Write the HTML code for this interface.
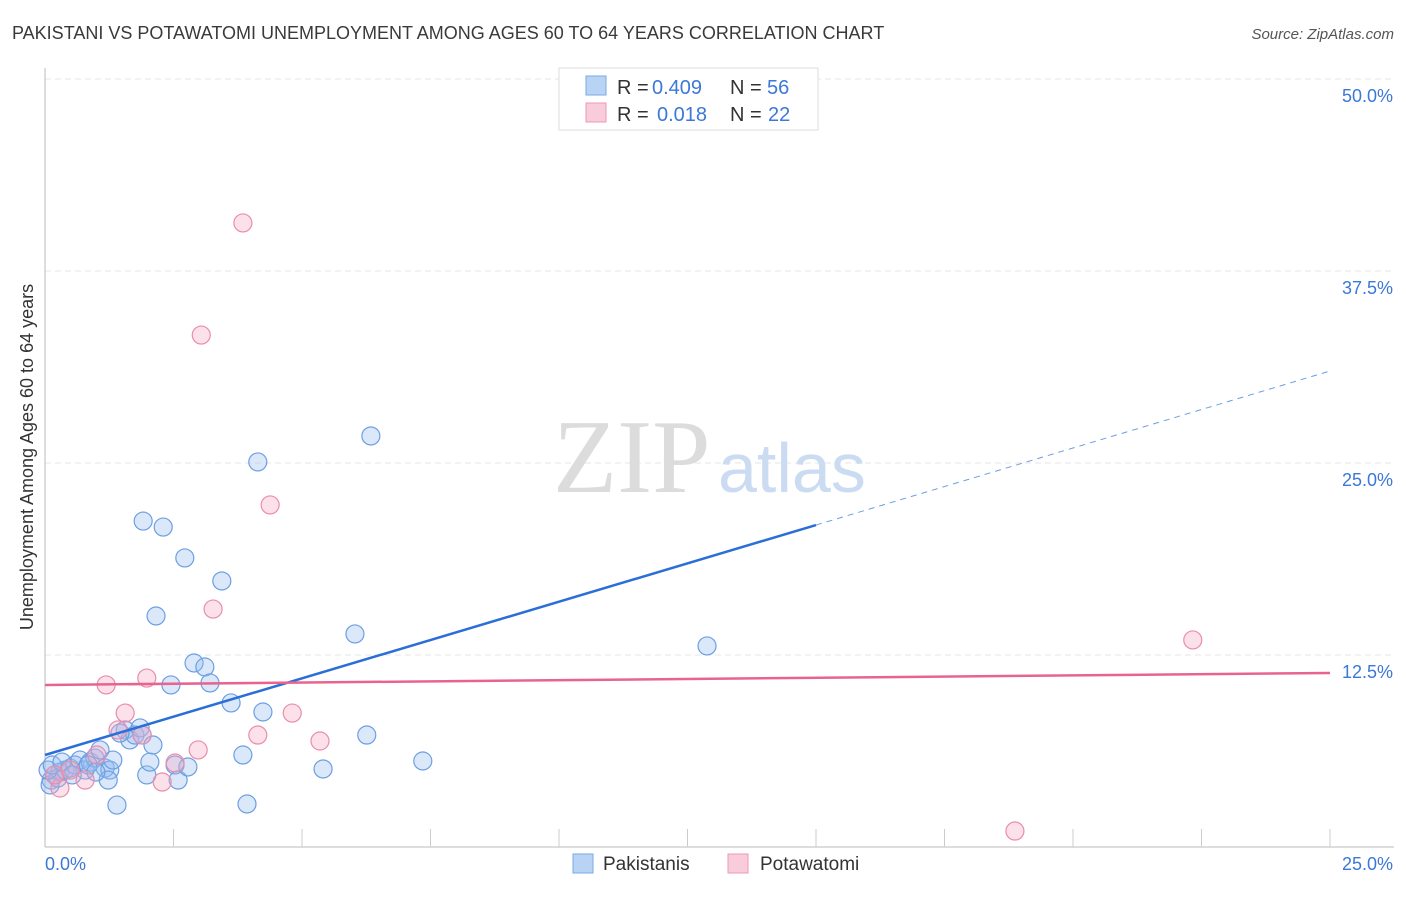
<!DOCTYPE html>
<html><head><meta charset="utf-8"><style>
body{margin:0;background:#fff;font-family:"Liberation Sans",sans-serif;}
</style></head><body>
<svg id="chart" width="1406" height="892" font-family="Liberation Sans, sans-serif">
<text x="12" y="39" font-size="18" fill="#3a3a3a">PAKISTANI VS POTAWATOMI UNEMPLOYMENT AMONG AGES 60 TO 64 YEARS CORRELATION CHART</text>
<text x="1394" y="39" font-size="15" fill="#555" font-style="italic" text-anchor="end">Source: ZipAtlas.com</text>
<text x="0" y="0" transform="translate(33,457) rotate(-90)" font-size="18" fill="#333" text-anchor="middle">Unemployment Among Ages 60 to 64 years</text>
<g id="grid"></g>
<text x="553" y="492" font-size="105" fill="#dcdcdc" style="font-family:'Liberation Serif',serif">ZIP</text>
<text x="718" y="492" font-size="70" fill="#cbdcf2">atlas</text>
<g id="marks"></g>
<g>
<rect x="559" y="68" width="259" height="62" fill="#fff" stroke="#ddd"/>
<rect x="586" y="76" width="20" height="19" fill="#b9d3f5" stroke="#7aa8e6"/>
<rect x="586" y="103" width="20" height="19" fill="#f9ccdb" stroke="#ec9ab6"/>
<text x="617" y="94" font-size="20" fill="#333">R =</text>
<text x="652" y="94" font-size="20" fill="#3b78d8">0.409</text>
<text x="730" y="94" font-size="20" fill="#333">N =</text>
<text x="767" y="94" font-size="20" fill="#3b78d8">56</text>
<text x="617" y="121" font-size="20" fill="#333">R =</text>
<text x="657" y="121" font-size="20" fill="#3b78d8">0.018</text>
<text x="730" y="121" font-size="20" fill="#333">N =</text>
<text x="768" y="121" font-size="20" fill="#3b78d8">22</text>
</g>
<g>
<rect x="573" y="854" width="20" height="19" fill="#b9d3f5" stroke="#7aa8e6"/>
<text x="603" y="870" font-size="19" fill="#333">Pakistanis</text>
<rect x="728" y="854" width="20" height="19" fill="#f9ccdb" stroke="#ec9ab6"/>
<text x="760" y="870" font-size="19" fill="#333">Potawatomi</text>
</g>
</svg>
<script>
const xTickLabels=["0.0%","25.0%"];
const yTicks=[12.5,25,37.5,50];
const yTickLabels=["12.5%","25.0%","37.5%","50.0%"];
const pakX=[0.12,0.19,0.29,0.39,0.49,0.10,0.25,0.58,0.68,0.78,0.88,0.97,1.07,1.17,1.26,1.32,1.23,1.40,1.56,1.65,1.75,1.85,1.89,1.98,2.04,2.10,1.91,2.16,2.30,2.45,2.53,2.59,2.72,2.78,2.90,3.11,3.21,3.44,3.62,3.85,3.93,4.14,4.24,5.41,6.03,6.26,6.34,7.35,12.88,0.06,0.14,0.33,0.53,0.84,0.99,1.46];
const pakY=[4.36,4.69,4.88,5.01,5.14,4.04,4.49,5.34,5.66,5.01,5.53,5.79,6.32,5.14,5.01,5.66,4.36,2.73,7.62,6.97,7.29,7.75,7.29,4.69,5.53,6.64,21.22,15.04,20.83,10.55,5.34,4.36,18.82,5.21,11.98,11.72,10.68,17.32,9.38,5.99,2.80,25.07,8.79,5.08,13.87,7.29,26.76,5.60,13.09,5.01,5.34,5.53,4.69,5.34,4.88,7.42];
const potX=[3.85,3.04,4.38,3.27,22.33,18.87,1.19,1.98,1.56,4.81,5.35,4.14,2.98,2.53,2.28,1.42,1.89,1.01,0.78,0.29,0.19,0.49];
const potY=[40.63,33.33,22.27,15.49,13.48,1.04,10.55,11.00,8.72,8.72,6.90,7.29,6.32,5.47,4.23,7.62,7.29,5.99,4.36,3.84,4.69,5.01];
const pakTrend=[5.99,20.96,30.99]; // at x=0,15,25
const potTrend=[10.55,11.33];
const NS="http://www.w3.org/2000/svg";
const X=v=>45+v*51.4, Y=v=>847-v*15.36;
function mk(t,a,p){const e=document.createElementNS(NS,t);for(const k in a)e.setAttribute(k,a[k]);p.appendChild(e);return e;}
const g=document.getElementById('grid'), m=document.getElementById('marks');
yTicks.forEach((t,i)=>{
 const l=mk('line',{x1:45,x2:1394,y1:Y(t),y2:Y(t),stroke:'#e6e6e6','stroke-dasharray':'6,4'},g);
 
 
 const tx=mk('text',{x:1393,y:Y(t)+23,'font-size':18,fill:'#3b78d8','text-anchor':'end'},g);
 tx.textContent=yTickLabels[i];
 
 
});
const ax=mk('line',{x1:45,x2:1394,y1:847,y2:847,stroke:'#bbb'},g);


const ay=mk('line',{x1:45,x2:45,y1:68,y2:847,stroke:'#bbb'},g);


for(let i=1;i<=10;i++){const t=mk('line',{x1:X(i*2.5),x2:X(i*2.5),y1:829,y2:847,stroke:'#ccc'},g);
 
 }
[[0,'start',45],[25,'end',1393]].forEach((d,i)=>{const t=mk('text',{x:d[2],y:870,'font-size':18,fill:'#3b78d8','text-anchor':d[1]},g);t.textContent=xTickLabels[i];
 
 });
pakX.forEach((x,i)=>{const c=mk('circle',{cx:X(x),cy:Y(pakY[i]),r:9,fill:'rgba(150,190,240,0.35)',stroke:'#6c9fe2','stroke-width':1.2},m);
 
 });
potX.forEach((x,i)=>{const c=mk('circle',{cx:X(x),cy:Y(potY[i]),r:9,fill:'rgba(245,170,196,0.35)',stroke:'#e98dac','stroke-width':1.2},m);
 
 });
const l1=mk('line',{x1:X(0),y1:Y(pakTrend[0]),x2:X(15),y2:Y(pakTrend[1]),stroke:'#2a6fd8','stroke-width':2.5},m);


const l2=mk('line',{x1:X(15),y1:Y(pakTrend[1]),x2:X(25),y2:Y(pakTrend[2]),stroke:'#6c9fe2','stroke-width':1,'stroke-dasharray':'6,5'},m);


const l3=mk('line',{x1:X(0),y1:Y(potTrend[0]),x2:X(25),y2:Y(potTrend[1]),stroke:'#e8648e','stroke-width':2.5},m);


</script>
</body></html>
